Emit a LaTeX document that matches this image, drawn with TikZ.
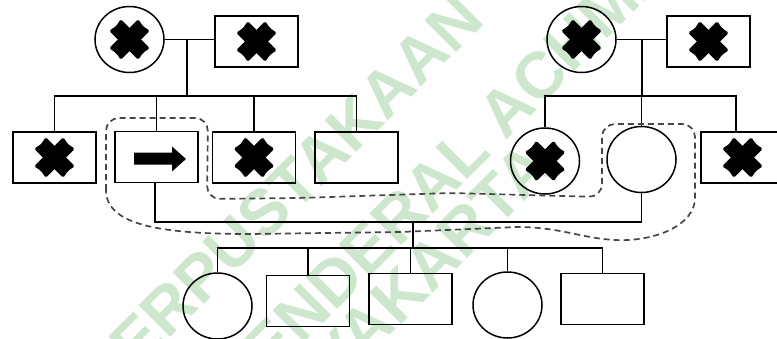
\documentclass[tikz,border=0pt]{standalone}
\usepackage{fontspec}
\usetikzlibrary{shapes.geometric}
\newfontfamily\wmfont{Liberation Sans}
\definecolor{wmgreen}{RGB}{204,231,204}
\definecolor{dashgray}{RGB}{70,70,70}

\begin{document}
\begin{tikzpicture}[x=1pt,y=-1pt,
  male/.style={draw, rectangle, minimum width=83pt, minimum height=51pt, inner sep=0pt, line width=1.5pt},
  female/.style={draw, ellipse, minimum width=69pt, minimum height=66pt, inner sep=0pt, line width=1.5pt},
  link/.style={line width=1.4pt},
  cluster/.style={draw=dashgray, line width=1.7pt, dash pattern=on 6pt off 4pt},
  watermark/.style={text=wmgreen, font=\wmfont\bfseries\fontsize{65}{65}\selectfont, rotate=45, inner sep=0pt},
  pics/deceased/.style={code={
    \foreach \a in {45,-45}
      \fill[rotate=\a, rounded corners=1.5pt] (-20.5,-8.2) -- (20.5,-8.2) -- (19,0) -- (20.5,8.2)
        -- (-20.5,8.2) -- (-19,0) -- cycle;}}]

\useasboundingbox (0,0) rectangle (777,338);
\clip (0,0) rectangle (777,338);

% library watermark behind the chart
\node[watermark] (wm1) at (280.6,196.4) {PERPUSTAKAAN};
\node[watermark] (wm2) at (520.6,94.4) {JENDERAL ACHMAD YANI};
\node[watermark] (wm3) at (380,314) {YOGYAKARTA};

% generation I
\node[female] (gmL) at (129.5,39.5) {};
\node[male]   (gfL) at (256.5,41.5) {};
\node[female] (gmR) at (581.5,39.5) {};
\node[male]   (gfR) at (708.5,41.5) {};

% generation II
\node[male]   (a1) at (54.5,157.5) {};
\node[male]   (pro) at (156.5,157) {};
\node[male]   (a3) at (254,157.5) {};
\node[male]   (a4) at (356.5,157.5) {};
\node[female] (b1) at (545,161) {};
\node[female] (spouse) at (641.5,159.5) {};
\node[male]   (b3) at (742.5,157.5) {};

% generation III
\node[female] (k1) at (217.5,306) {};
\node[male]   (k2) at (308,301) {};
\node[male]   (k3) at (410.5,299) {};
\node[female] (k4) at (507.5,305) {};
\node[male]   (k5) at (602.5,299) {};

% deceased marks
\foreach \n in {gmL,gfL,gmR,gfR,a1,a3,b1,b3} \pic at (\n) {deceased};

% proband arrow
\fill[shift={(pro.center)}] (-22.5,-4.5) -- (15.5,-4.5) -- (15.5,-10.5) -- (29.5,2)
  -- (15.5,14.5) -- (15.5,7.5) -- (-22.5,7.5) -- cycle;

% left family
\coordinate (mL) at (187,40);
\coordinate (sL) at (187,96);
\draw[link] (gmL.east) -- (gmL.east -| gfL.west);
\draw[link] (mL) -- (sL);
\draw[link] (a1.north) -- (a1.north |- sL) -- (a4.north |- sL) -- (a4.north);
\draw[link] (pro.north) -- (pro.north |- sL);
\draw[link] (a3.north) -- (a3.north |- sL);

% right family
\coordinate (mR) at (642,40);
\coordinate (sR) at (642,96);
\draw[link] (gmR.east) -- (gmR.east -| gfR.west);
\draw[link] (mR) -- (sR);
\draw[link] (b1.north) -- (b1.north |- sR) -- ([xshift=-6.5pt]b3.north |- sR) -- ([xshift=-6.5pt]b3.north);
\draw[link] (spouse.north) -- (spouse.north |- sR);

% proband couple and children
\coordinate (mP) at (413,222);
\coordinate (sP) at (413,248);
\draw[link] ([xshift=-1.5pt]pro.south) -- ([xshift=-1.5pt]pro.south |- mP) -| (spouse.south);
\draw[link] (mP) -- (sP);
\draw[link] (k1.north) -- (k1.north |- sP) -- (k5.north |- sP) -- (k5.north);
\draw[link] (k2.north) -- (k2.north |- sP);
\draw[link] (k3.north) -- (k3.north |- sP);
\draw[link] (k4.north) -- (k4.north |- sP);

% dashed grouping outline
\draw[cluster, rounded corners=13pt]
  (106,190) -- (106,118) -- (208,118) -- (207,199) -- (300,198) -- (450,193)
  -- (602,197) -- (602,124) -- (695,124) -- (695,185)
  [sharp corners] .. controls (695,225) and (655,242) .. (615,240)
  .. controls (580,238) and (560,227) .. (517,227)
  -- (400,232) -- (250,234)
  .. controls (160,234) and (106,225) .. (106,190) -- cycle;
\end{tikzpicture}
\end{document}
